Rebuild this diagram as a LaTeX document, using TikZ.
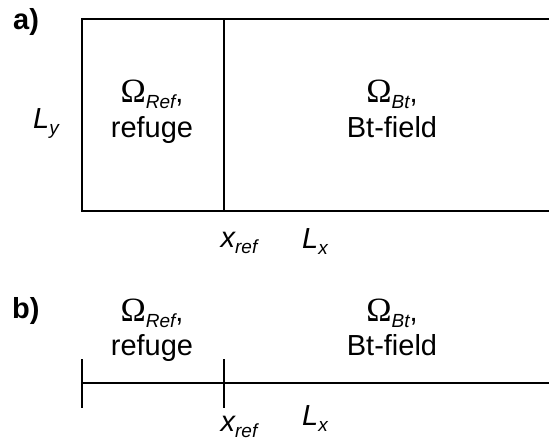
\documentclass[tikz,border=0pt]{standalone}
\usepackage{fontspec}
\setmainfont{Liberation Sans}
\newfontfamily\omfont{Liberation Serif}
\newcommand{\mainsz}{\fontsize{29}{35}\selectfont}
\newcommand{\om}{{\omfont\fontsize{34}{35}\selectfont Ω}}
\newcommand{\subtxt}[1]{\raisebox{-6pt}{\fontsize{19}{19}\selectfont\itshape #1}}
\begin{document}
\begin{tikzpicture}[x=1pt,y=-1pt,
  lbl/.style={font=\mainsz, inner sep=0pt, anchor=base},
  lbll/.style={font=\mainsz, inner sep=0pt, anchor=base west},
  tag/.style={font=\mainsz\bfseries, inner sep=0pt, anchor=base west},
  edge/.style={line width=1.4pt, line cap=rect}]
\useasboundingbox (0,0) rectangle (549,442);
% panel a
\node[tag] (taga) at (13,29) {a)};
\coordinate (tr) at (549,19);
\coordinate (tl) at (82,19);
\coordinate (bl) at (82,211);
\coordinate (br) at (549,211);
\coordinate (dt) at (224,19);
\coordinate (db) at (224,211);
\draw[edge] (tr) -- (tl) -- (bl) -- (br);
\draw[edge] (dt) -- (db);
\node[lbl] (aomref) at (152,102) {\om\subtxt{Ref},};
\node[lbl] (arefuge) at (152,137) {refuge};
\node[lbl] (aombt) at (392,102) {\om\subtxt{Bt},};
\node[lbl] (abt) at (392,137) {Bt-field};
\node[lbll] (ly) at (33,128) {\itshape L\subtxt{y}};
\node[lbl] (axref) at (239,247) {\itshape x\subtxt{ref}};
\node[lbll] (alx) at (302,248) {\itshape L\subtxt{x}};
% panel b
\node[tag] (tagb) at (12,318) {b)};
\node[lbl] (bomref) at (152,321) {\om\subtxt{Ref},};
\node[lbl] (brefuge) at (152,355) {refuge};
\node[lbl] (bombt) at (392,321) {\om\subtxt{Bt},};
\node[lbl] (bbt) at (392,355) {Bt-field};
\coordinate (ls) at (82,383);
\coordinate (le) at (549,383);
\coordinate (t1a) at (82,360);
\coordinate (t1b) at (82,407);
\coordinate (t2a) at (224,360);
\coordinate (t2b) at (224,407);
\draw[edge] (ls) -- (le);
\draw[edge] (t1a) -- (t1b);
\draw[edge] (t2a) -- (t2b);
\node[lbll] (blx) at (302,425) {\itshape L\subtxt{x}};
\node[lbl] (bxref) at (239,431) {\itshape x\subtxt{ref}};
\end{tikzpicture}
\end{document}
